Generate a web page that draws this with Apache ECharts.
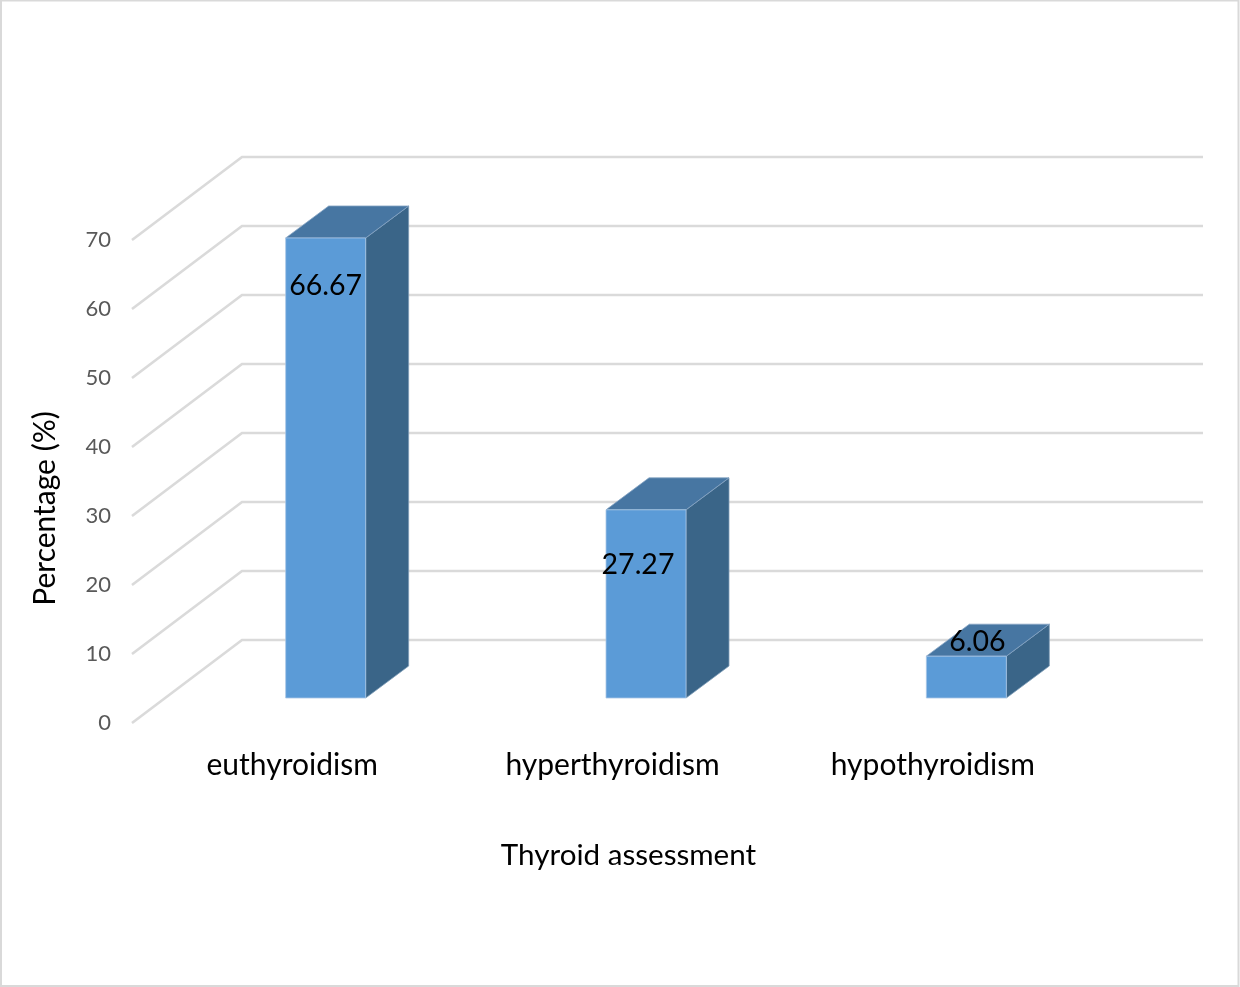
<!DOCTYPE html>
<html>
<head>
<meta charset="utf-8">
<style>html,body{margin:0;padding:0;background:#fff}#c{width:1240px;height:987px}</style>
<script src="https://cdn.jsdelivr.net/npm/echarts@6/dist/echarts.min.js"></script>
</head>
<body>
<div id="c"></div>
<script>
const categories = ['euthyroidism', 'hyperthyroidism', 'hypothyroidism'];
const percentages = [66.67, 27.27, 6.06];
const yTicks = [0, 10, 20, 30, 40, 50, 60, 70];
const xTitle = 'Thyroid assessment';
const yTitle = 'Percentage (%)';

const FONT = 'Lato, "Open Sans", sans-serif';
const wallDepth = [110, -83];
const barShift = [33.5, -25];
const barDepth = [43, -32];
const barWidth = 80;
const labelNudge = [[0, 48], [-8, 55], [11, -14]];

const chart = echarts.init(document.getElementById('c'), null, {renderer: 'canvas'});

function wallItem(params, api) {
  const y = api.coord([0, api.value(1)])[1];
  const cs = params.coordSys;
  const x0 = cs.x, x1 = cs.x + wallDepth[0], y1 = y + wallDepth[1];
  return {
    type: 'polyline',
    shape: {points: [[x0, y], [x1, y1], [x1 + cs.width, y1]]},
    style: {fill: null, stroke: '#dadada', lineWidth: 2.6}
  };
}

function barItem(params, api) {
  const i = api.value(0);
  const top = api.coord([i, api.value(1)]);
  const base = api.coord([i, 0]);
  const l = top[0] + barShift[0] - barWidth / 2, r = l + barWidth;
  const t = top[1] + barShift[1], b = base[1] + barShift[1];
  const dx = barDepth[0], dy = barDepth[1];
  const edge = {stroke: '#a9c6e6', lineWidth: 0.8};
  return {
    type: 'group',
    children: [
      {type: 'polygon', shape: {points: [[r, t], [r + dx, t + dy], [r + dx, b + dy], [r, b]]},
        style: Object.assign({fill: '#3a6588'}, edge, {stroke: '#7f9db8'})},
      {type: 'polygon', shape: {points: [[l, t], [l + dx, t + dy], [r + dx, t + dy], [r, t]]},
        style: Object.assign({fill: '#4776a2'}, edge, {stroke: '#86a5c4'})},
      {type: 'rect', shape: {x: l, y: t, width: barWidth, height: b - t},
        style: Object.assign({fill: '#5b9bd7'}, edge)},
      {type: 'text', z2: 10,
        x: l + barWidth / 2 + labelNudge[i][0],
        y: t + labelNudge[i][1],
        style: {text: api.value(1).toFixed(2), fill: '#000', font: '28.5px ' + FONT, align: 'center', verticalAlign: 'middle'}}
    ]
  };
}

chart.setOption({
  animation: false,
  backgroundColor: '#fff',
  graphic: [{type: 'rect', shape: {x: 1, y: 0.5, width: 1237.5, height: 985.5},
    style: {fill: null, stroke: '#d9d9d9', lineWidth: 2}, silent: true, z: -1}],
  grid: {left: 132, top: 240, width: 961, height: 483},
  xAxis: {
    type: 'category', data: categories,
    axisLine: {show: false}, axisTick: {show: false}, splitLine: {show: false},
    axisLabel: {color: '#000', fontSize: 30, fontFamily: FONT, margin: 27},
    name: xTitle, nameLocation: 'middle', nameGap: 117,
    nameTextStyle: {color: '#000', fontSize: 29.6, fontFamily: FONT, padding: [0, 0, 0, 32]}
  },
  yAxis: {
    type: 'value', min: 0, max: 70, interval: 10,
    axisLine: {show: false}, axisTick: {show: false}, splitLine: {show: false},
    axisLabel: {color: '#595959', fontSize: 22, fontFamily: FONT, margin: 21, padding: [4, 0, 0, 0]},
    name: yTitle, nameLocation: 'middle', nameGap: 72, nameRotate: 90,
    nameTextStyle: {color: '#000', fontSize: 30, fontFamily: FONT, padding: [0, 54, 0, 0]}
  },
  series: [
    {type: 'custom', name: 'walls', renderItem: wallItem, data: yTicks.map(v => [0, v]),
      encode: {x: 0, y: 1}, silent: true, z: 1},
    {type: 'custom', name: 'Percentage', renderItem: barItem, data: percentages.map((v, i) => [i, v]),
      encode: {x: 0, y: 1}, z: 2}
  ]
});
</script>
</body>
</html>
